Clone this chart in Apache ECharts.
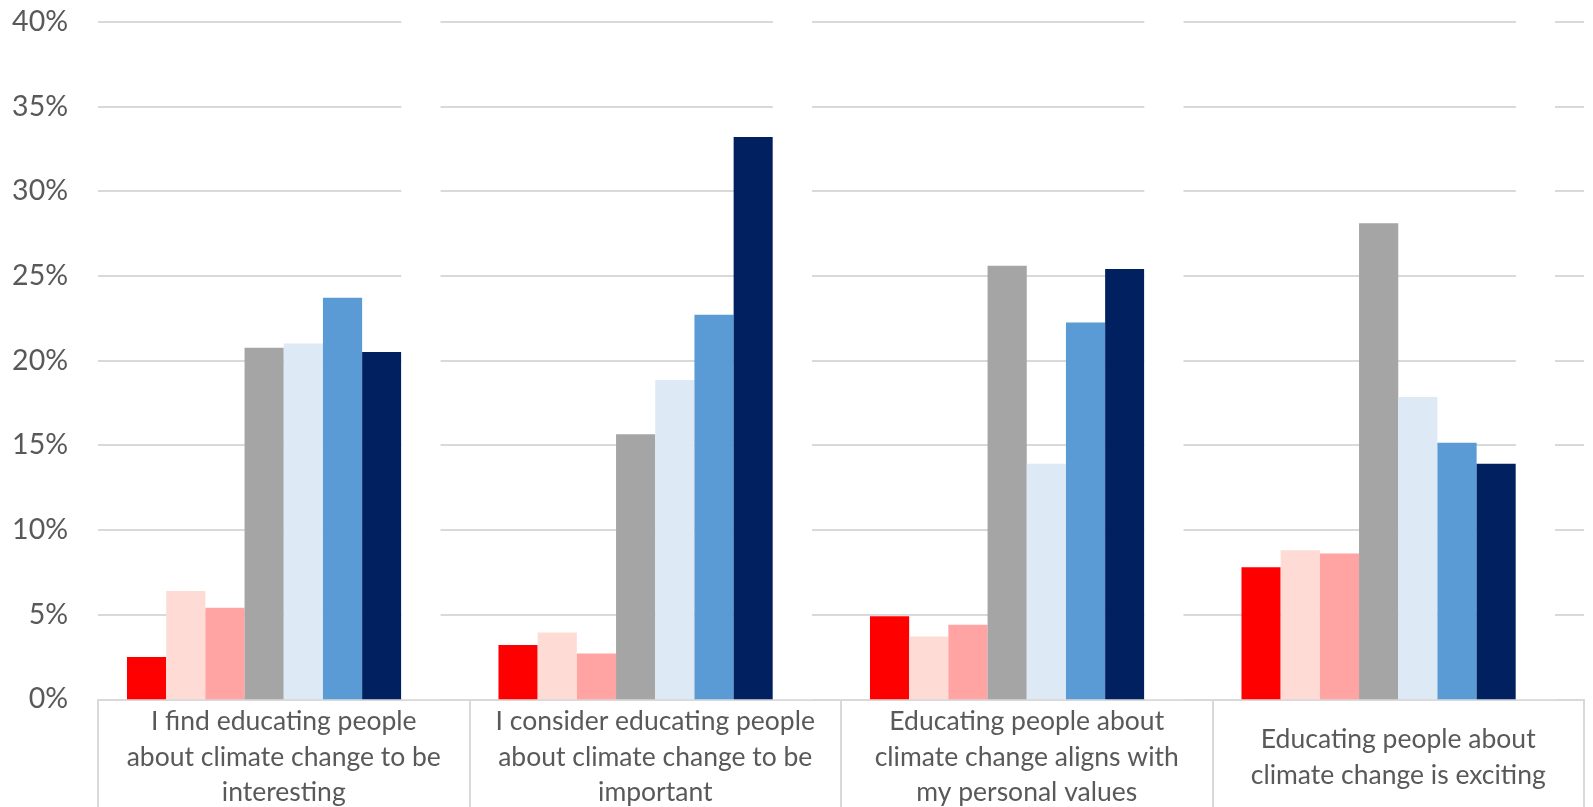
<!DOCTYPE html>
<html>
<head>
<meta charset="utf-8">
<style>
  html, body { margin: 0; padding: 0; background: #ffffff; }
  #chart { width: 1593px; height: 807px; }
</style>
<script src="https://cdn.jsdelivr.net/npm/echarts@6/dist/echarts.min.js"></script>
</head>
<body>
<div id="chart"></div>
<script>
// Categories (statement labels, with their line breaks as in the reference)
const categories = [
  "I find educating people\nabout climate change to be\ninteresting",
  "I consider educating people\nabout climate change to be\nimportant",
  "Educating people about\nclimate change aligns with\nmy personal values",
  "Educating people about\nclimate change is exciting"
];

// Response-level series (percent), left to right within each group
const seriesNames = ["Level 1", "Level 2", "Level 3", "Level 4", "Level 5", "Level 6", "Level 7"];
const level1 = [2.5, 3.2, 4.9, 7.8];
const level2 = [6.4, 3.95, 3.7, 8.8];
const level3 = [5.4, 2.7, 4.4, 8.6];
const level4 = [20.75, 15.65, 25.6, 28.1];
const level5 = [21.0, 18.85, 13.9, 17.85];
const level6 = [23.7, 22.7, 22.25, 15.15];
const level7 = [20.5, 33.2, 25.4, 13.9];
// Invisible white spacer column that follows each group (it hides the gridlines)
const spacer = [41, 41, 41, 41];

// Value-axis tick labels
const yTicks = [0, 5, 10, 15, 20, 25, 30, 35, 40];

const colors = ["#FF0000", "#FFDBD6", "#FFA3A3", "#A5A5A5", "#DDEAF6", "#5B9BD5", "#002060"];
const levels = [level1, level2, level3, level4, level5, level6, level7];

const chart = echarts.init(document.getElementById('chart'), null, { renderer: 'canvas' });

const series = levels.map((vals, i) => ({
  name: seriesNames[i],
  type: 'bar',
  data: vals,
  barGap: '0%',
  barCategoryGap: '15.6%',
  itemStyle: { color: colors[i] },
  emphasis: { disabled: true }
}));
series.push({
  name: 'spacer',
  type: 'bar',
  data: spacer,
  barGap: '0%',
  barCategoryGap: '15.6%',
  clip: false,
  silent: true,
  itemStyle: { color: '#FFFFFF' },
  emphasis: { disabled: true }
});

chart.setOption({
  animation: false,
  backgroundColor: '#FFFFFF',
  grid: { left: 98, right: 9, top: 21.7, bottom: 107.7, containLabel: false, outerBoundsMode: 'none' },
  xAxis: {
    type: 'category',
    data: categories,
    axisLine: { show: true, lineStyle: { color: '#D9D9D9', width: 2 } },
    axisTick: { show: true, length: 115, lineStyle: { color: '#D9D9D9', width: 2 } },
    axisLabel: {
      interval: 0,
      margin: 58,
      verticalAlign: 'middle',
      color: '#595959',
      fontFamily: 'Lato',
      fontSize: 26.5,
      lineHeight: 35.5,
      align: 'center'
    },
    splitLine: { show: false }
  },
  yAxis: {
    type: 'value',
    min: yTicks[0],
    max: yTicks[yTicks.length - 1],
    interval: yTicks[1] - yTicks[0],
    axisLine: { show: false },
    axisTick: { show: false },
    axisLabel: {
      margin: 30,
      color: '#595959',
      fontFamily: 'Lato',
      fontSize: 28.5,
      formatter: v => v + '%'
    },
    splitLine: { show: true, lineStyle: { color: '#D9D9D9', width: 2 } }
  },
  series: series
});
</script>
</body>
</html>
